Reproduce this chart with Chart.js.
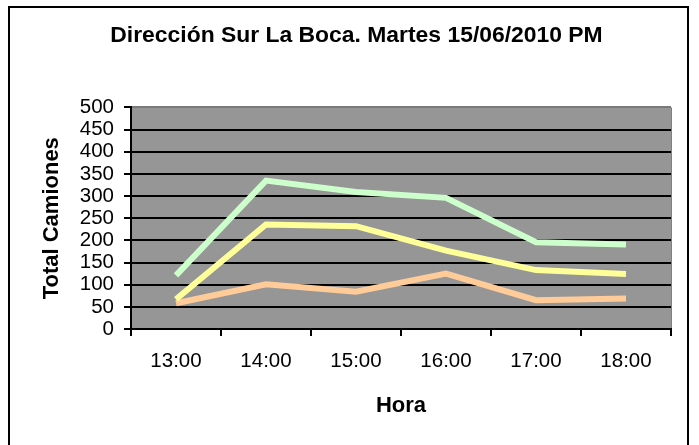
<!DOCTYPE html>
<html>
<head>
<meta charset="utf-8">
<script src="https://cdn.jsdelivr.net/npm/chart.js@4"></script>
<style>
  html, body { margin: 0; padding: 0; background: #fff; }
  #wrap { width: 699px; height: 445px; }
</style>
</head>
<body>
<div id="wrap"><canvas id="chart" width="699" height="445"></canvas></div>
<script>
// === Data ===
const horas = ["13:00", "14:00", "15:00", "16:00", "17:00", "18:00"];
const serieVerde = [121, 335, 309, 296, 196, 191];
const serieAmarilla = [67, 236, 232, 177, 133, 124];
const serieNaranja = [58, 101, 84, 125, 65, 69];

// === Plot background + outer frame ===
const excelLook = {
  id: "excelLook",
  beforeDraw(chart) {
    const { ctx, chartArea: a } = chart;
    ctx.save();
    ctx.fillStyle = "#fff";
    ctx.fillRect(0, 0, chart.width, chart.height);
    ctx.strokeStyle = "#000";
    ctx.lineWidth = 2;
    ctx.strokeRect(9, 7, 679, 460);
    ctx.fillStyle = "#969696";
    ctx.fillRect(a.left, a.top, a.right - a.left, a.bottom - a.top);
    ctx.strokeStyle = "#808080";
    ctx.lineWidth = 1;
    ctx.beginPath();
    ctx.moveTo(a.right + 0.5, a.top);
    ctx.lineTo(a.right + 0.5, a.bottom);
    ctx.stroke();
    ctx.restore();
  }
};

const FONT = "Liberation Sans, Arial";

const ctx = document.getElementById("chart").getContext("2d");
const chart = new Chart(ctx, {
  type: "line",
  data: {
    labels: horas,
    datasets: [
      { label: "Serie 1", data: serieVerde, borderColor: "#CCFFCC" },
      { label: "Serie 2", data: serieAmarilla, borderColor: "#FFFF99" },
      { label: "Serie 3", data: serieNaranja, borderColor: "#FFCC99" }
    ]
  },
  options: {
    responsive: false,
    animation: false,
    devicePixelRatio: 1,
    elements: {
      line: { borderWidth: 6, tension: 0, borderCapStyle: "butt", borderJoinStyle: "miter" },
      point: { radius: 0 }
    },
    layout: { padding: { left: 14, right: 0, top: 0, bottom: 0 } },
    plugins: {
      legend: { display: false },
      tooltip: { enabled: false },
      title: {
        display: true,
        text: "Dirección Sur La Boca. Martes 15/06/2010 PM",
        color: "#000",
        font: { family: FONT, size: 22.9, weight: "bold" },
        padding: { top: 22, bottom: 58 }
      }
    },
    scales: {
      x: {
        offset: true,
        grid: { offset: true, drawOnChartArea: false, color: "#000", lineWidth: 2, tickLength: 7 },
        border: { color: "#000", width: 2 },
        ticks: { color: "#000", font: { family: FONT, size: 20.5 }, padding: 13, maxRotation: 0 },
        title: {
          display: true,
          text: "Hora",
          color: "#000",
          font: { family: FONT, size: 22, weight: "bold" },
          padding: { top: 0, bottom: 26 }
        },
        afterFit(s) { s.height = 116; }
      },
      y: {
        min: 0,
        max: 500,
        ticks: { stepSize: 50, autoSkip: false, color: "#000", font: { family: FONT, size: 20.5 }, padding: 10 },
        grid: {
          // top edge of the plot is a grey line, the rest black
          color: (c) => (c.tick && c.tick.value === 500 ? "#7a7a7a" : "#000"),
          tickColor: "#000",
          lineWidth: 2,
          tickLength: 7
        },
        border: { color: "#000", width: 2 },
        title: {
          display: true,
          text: "Total Camiones",
          color: "#000",
          font: { family: FONT, size: 22, weight: "bold" },
          padding: { top: 25, bottom: 0 }
        },
        afterFit(s) { s.width = 117; }
      },
      // empty right axis, only keeps the white margin right of the plot
      yRight: {
        position: "right",
        min: 0,
        max: 500,
        ticks: { display: false },
        grid: { display: false, drawTicks: false },
        border: { display: false },
        afterFit(s) { s.width = 28; }
      }
    }
  },
  plugins: [excelLook]
});
</script>
</body>
</html>
